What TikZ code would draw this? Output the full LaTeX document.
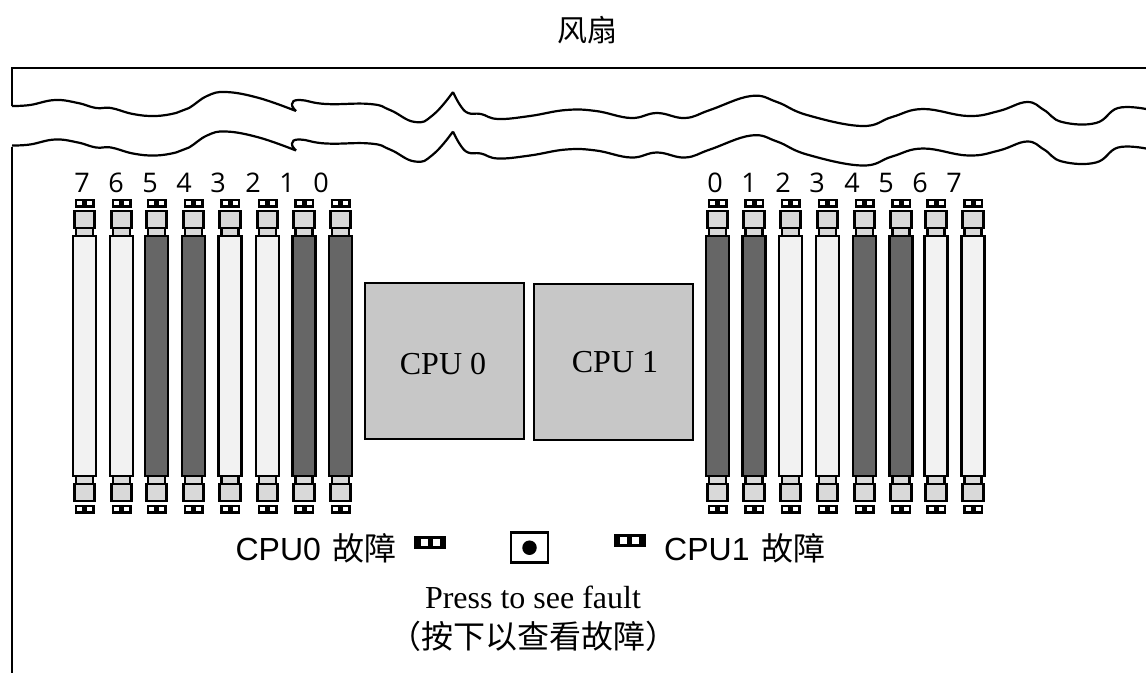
\documentclass[tikz,border=0pt]{standalone}
\usepackage{fontspec}
\setmainfont{Liberation Serif}
\setsansfont{Liberation Sans}
\newfontfamily\cjk{Noto Sans CJK SC}
\newfontfamily\digitfont{Open Sans}
\usepackage{tikz}
\usetikzlibrary{positioning}
\definecolor{slotdark}{gray}{0.40}
\definecolor{slotlight}{gray}{0.95}
\definecolor{latchgray}{gray}{0.85}
\definecolor{cpugray}{gray}{0.78}
\newcommand{\ledcells}[3]{%
  \fill[white] ([shift={(-#1-#2,-#3/2)}]path picture bounding box.center) rectangle +(#2,#3);
  \fill[white] ([shift={(#1,-#3/2)}]path picture bounding box.center) rectangle +(#2,#3);}
\newcommand{\fanwave}{%
  plot[smooth,tension=0.7] coordinates {(12,106) (30,105) (55,100) (78,103) (96,108) (111,108) (133,114) (155,116) (176,113) (189,108) (207,96) (226,92) (259,98) (296,111)}
  plot[smooth,tension=0.8] coordinates {(296,111) (292,104) (300,100) (326,104) (370,104) (390,110) (415,122) (433,115) (453,92)}
  plot[smooth,tension=0.7] coordinates {(453,92) (460,105) (468,113) (481,114) (498,119) (530,116) (566,110) (596,111) (631,118) (657,113) (685,118) (710,110) (751,96) (777,102) (807,115) (862,126) (892,117) (923,109) (968,116) (999,111) (1027,102) (1044,110) (1062,122) (1096,123) (1118,108) (1146,109)}}
\tikzset{
  slotbase/.style={draw=black, line width=2.6pt, inner sep=0pt, outer sep=0pt, minimum width=23pt, minimum height=240pt},
  slotD/.style={slotbase, fill=slotdark},
  slotL/.style={slotbase, fill=slotlight},
  collar/.style={draw=black, line width=2.6pt, fill=latchgray, inner sep=0pt, outer sep=0pt, minimum width=17pt, minimum height=8pt},
  latch/.style={draw=black, line width=2.6pt, fill=latchgray, inner sep=0pt, outer sep=0pt, minimum width=20.5pt, minimum height=17pt},
  ledbox/.style={fill=black, inner sep=0pt, outer sep=0pt, minimum width=20pt, minimum height=9pt, path picture={\ledcells{2.5}{5}{3.5}}},
  ledbig/.style={fill=black, inner sep=0pt, outer sep=0pt, minimum width=32pt, minimum height=13pt, path picture={\ledcells{2.2}{7.6}{7}}},
  digit/.style={font=\digitfont\fontsize{27}{30}\selectfont, inner sep=0pt},
  cpubox/.style={draw=black, line width=2pt, fill=cpugray, inner sep=0pt, minimum width=159pt, minimum height=156pt},
  cpulabel/.style={font=\fontsize{32}{36}\selectfont, inner sep=0pt},
  faultlabel/.style={font=\sffamily\fontsize{32}{36}\selectfont, inner sep=0pt},
  wire/.style={draw=black, line width=2.2pt}
}
\begin{document}
\begin{tikzpicture}[x=1pt,y=-1pt]
\useasboundingbox (0,0) rectangle (1146,673);
\node[font=\cjk\fontsize{30}{34}\selectfont, inner sep=0pt] (fan) at (587,30) {风扇};
\draw[wire] (12,106) -- (12,68) -- (1146,68);
\draw[wire] (12,147) -- (12,673);
\draw[wire] \fanwave;
\draw[wire, shift={(0,39.5)}] \fanwave;
% memory slots, left bank then right bank
\foreach \slotname/\slotx/\slotfill/\digitx in {7/84.5/slotL/82, 6/121.5/slotL/116, 5/156.5/slotD/150, 4/193.5/slotD/184, 3/230/slotL/218, 2/267.5/slotL/253, 1/304/slotD/287, 0/340.5/slotD/321}{
  \node[\slotfill] (dl\slotname) at (\slotx,356) {};
  \node[collar, above=0pt of dl\slotname] (cul\slotname) {};
  \node[latch, above=0pt of cul\slotname] (tul\slotname) {};
  \node[ledbox, above=3.5pt of tul\slotname] (lul\slotname) {};
  \node[collar, below=0pt of dl\slotname] (cbl\slotname) {};
  \node[latch, below=0pt of cbl\slotname] (tbl\slotname) {};
  \node[ledbox, below=3.5pt of tbl\slotname] (lbl\slotname) {};
  \node[digit] (nl\slotname) at (\digitx,183) {\slotname};
}
\foreach \slotname/\slotx/\slotfill/\digitx in {0/717.5/slotD/715, 1/754/slotD/749, 2/790.5/slotL/783, 3/827.5/slotL/817, 4/864.5/slotD/852, 5/901/slotD/886, 6/936/slotL/920, 7/973/slotL/954}{
  \node[\slotfill] (dr\slotname) at (\slotx,356) {};
  \node[collar, above=0pt of dr\slotname] (cur\slotname) {};
  \node[latch, above=0pt of cur\slotname] (tur\slotname) {};
  \node[ledbox, above=3.5pt of tur\slotname] (lur\slotname) {};
  \node[collar, below=0pt of dr\slotname] (cbr\slotname) {};
  \node[latch, below=0pt of cbr\slotname] (tbr\slotname) {};
  \node[ledbox, below=3.5pt of tbr\slotname] (lbr\slotname) {};
  \node[digit] (nr\slotname) at (\digitx,183) {\slotname};
}
\node[cpubox] (cpuzero) at (444,360.5) {};
\node[cpubox] (cpuone) at (613,361.5) {};
\node[cpulabel] (cpuzerotext) at (443,364) {CPU 0};
\node[cpulabel] (cpuonetext) at (615,362) {CPU 1};
\node[ledbig] (ledzero) at (430.3,542.8) {};
\node[ledbig] (ledone) at (629.5,540.8) {};
\node[draw=black, line width=2.4pt, inner sep=0pt, minimum width=37pt, minimum height=30pt] (button) at (529.5,547.5) {};
\node[circle, fill=black, inner sep=0pt, minimum size=14.5pt] (buttondot) at (529.5,547.7) {};
\node[faultlabel, anchor=east] (faultzero) at (397,548) {CPU0 \hspace{3pt}{\cjk 故障}};
\node[faultlabel, anchor=west] (faultone) at (664,548) {CPU1 \hspace{3pt}{\cjk 故障}};
\node[font=\fontsize{32}{36}\selectfont, inner sep=0pt] (press) at (533,597) {Press to see fault};
\node[font=\cjk\fontsize{32}{36}\selectfont, inner sep=0pt] (presshint) at (533,636) {（按下以查看故障）};
\end{tikzpicture}
\end{document}
